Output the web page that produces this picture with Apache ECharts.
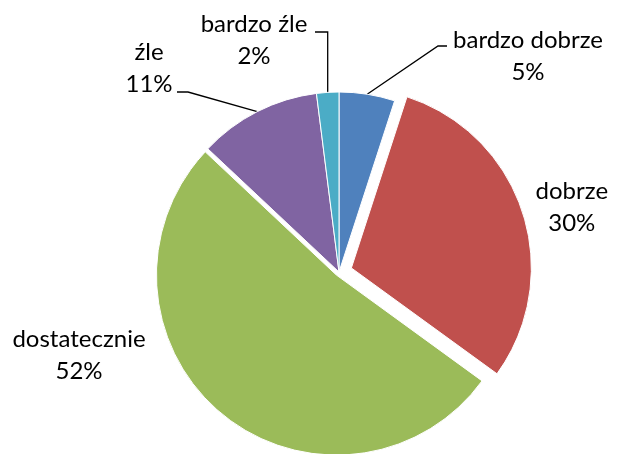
<!DOCTYPE html>
<html>
<head>
<meta charset="utf-8">
<script src="https://cdn.jsdelivr.net/npm/echarts@6/dist/echarts.min.js"></script>
<style>
html,body{margin:0;padding:0;background:#fff;}
#chart{width:619px;height:454px;}
</style>
</head>
<body>
<div id="chart"></div>
<script>
// ---- data ----
const categories = ['bardzo dobrze', 'dobrze', 'dostatecznie', 'źle', 'bardzo źle'];
const values = [5, 30, 52, 11, 2];
const colors = ['#4F81BD', '#C0504D', '#9BBB59', '#8064A2', '#4BACC6'];
const explode = [0, 13, 4, 0, 0];

// label placement (centre of label block) and leader-line bends
const labelPlace = [
  { x: 528, y: 56, line: [[438, 46], [447, 46]] },
  { x: 582, y: 210 },
  { x: 79, y: 355 },
  { x: 149, y: 68, line: [[188, 92], [177, 92]] },
  { x: 254, y: 40, line: ['v', [315, 32]] }
];

const FONT = 'Lato';
const chart = echarts.init(document.getElementById('chart'), null, { renderer: 'canvas' });

function makeSeries(offset, withLabels) {
  return {
    type: 'pie',
    center: [339, 272],
    radius: [0, 180],
    startAngle: 90,
    clockwise: true,
    selectedMode: 'multiple',
    selectedOffset: offset,
    silent: true,
    animation: false,
    avoidLabelOverlap: false,
    emphasis: { disabled: true },
    select: { itemStyle: { borderColor: '#fff', borderWidth: 1 } },
    label: {
      show: withLabels,
      position: 'outside',
      fontFamily: FONT,
      fontSize: 24,
      lineHeight: 32,
      color: '#000',
      align: 'center',
      formatter: p => p.name + '\n' + Math.round(p.percent) + '%'
    },
    labelLine: { show: withLabels, smooth: false, lineStyle: { color: '#000', width: 1.3 } },
    labelLayout: function (params) {
      const P = labelPlace[params.dataIndex];
      const res = { x: P.x, y: P.y, align: 'center', verticalAlign: 'middle' };
      if (P.line && params.labelLinePoints) {
        const p0 = params.labelLinePoints[0];
        const pts = [p0];
        P.line.forEach((q, k) => {
          if (q === 'v') pts.push([p0[0], P.line[k + 1][1]]);
          else pts.push(q);
        });
        res.labelLinePoints = pts;
      }
      return res;
    },
    data: categories.map((name, i) => {
      const mine = (explode[i] === offset) || (offset === 13 && explode[i] === 0);
      return {
        name: name,
        value: values[i],
        selected: explode[i] > 0 && explode[i] === offset,
        itemStyle: mine
          ? { color: colors[i], borderColor: '#fff', borderWidth: 1 }
          : { color: 'rgba(0,0,0,0)', borderWidth: 0 },
        label: { show: withLabels },
        labelLine: { show: withLabels && !!labelPlace[i].line }
      };
    })
  };
}

chart.setOption({
  backgroundColor: '#fff',
  animation: false,
  series: [makeSeries(13, true), makeSeries(4, false)]
});
</script>
</body>
</html>
